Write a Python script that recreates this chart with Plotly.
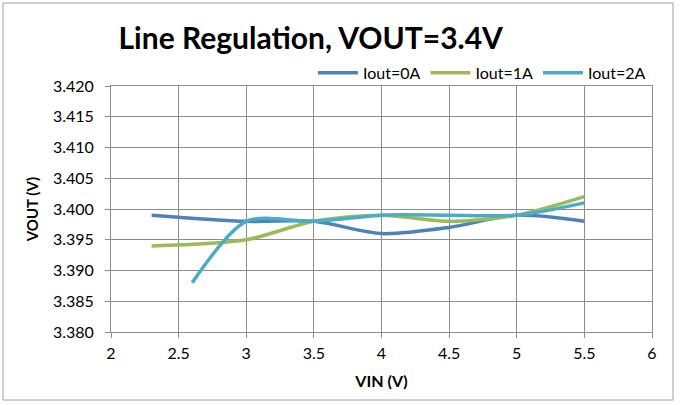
import plotly.graph_objects as go

vin_0a = [2.3, 3.0, 3.5, 4.0, 4.5, 5.0, 5.5]
vout_0a = [3.399, 3.398, 3.398, 3.396, 3.397, 3.399, 3.398]
vin_1a = [2.3, 3.0, 3.5, 4.0, 4.5, 5.0, 5.5]
vout_1a = [3.394, 3.395, 3.398, 3.399, 3.398, 3.399, 3.402]
vin_2a = [2.6, 3.0, 3.5, 4.0, 4.5, 5.0, 5.5]
vout_2a = [3.388, 3.398, 3.398, 3.399, 3.399, 3.399, 3.401]
names = ["Iout=0A", "Iout=1A", "Iout=2A"]
colors = ["#4F81BD", "#9BBB59", "#4BACC6"]

FONT = "Lato, Open Sans, sans-serif"
fig = go.Figure()
for xs, ys, n, c in zip([vin_0a, vin_1a, vin_2a], [vout_0a, vout_1a, vout_2a], names, colors):
    fig.add_trace(go.Scatter(x=xs, y=ys, name=n, mode="lines",
                             line=dict(color=c, width=3.5, shape="spline", smoothing=0.8)))

grid = "#8C8C8C"
fig.update_layout(
    width=683, height=405,
    margin=dict(l=111, r=31, t=86, b=73),
    paper_bgcolor="white", plot_bgcolor="white",
    font=dict(family=FONT, size=15, color="black"),
    title=dict(text="<b>Line Regulation, VOUT=3.4V</b>", x=0.455, xanchor="center",
               y=0.905, yanchor="middle", font=dict(size=30, family=FONT)),
    legend=dict(orientation="h", x=0.998, xanchor="right", y=1.053, yanchor="middle",
                font=dict(size=16), bgcolor="rgba(0,0,0,0)", traceorder="normal",
                itemwidth=40, tracegroupgap=0),
    showlegend=True,
    xaxis=dict(range=[2, 6], dtick=0.5, tick0=2, showgrid=True, gridcolor=grid, gridwidth=1,
               showline=True, linecolor=grid, mirror=True, ticks="outside", ticklen=5,
               tickcolor=grid, zeroline=False, tickfont=dict(size=16), ticklabelstandoff=2,
               title=dict(text="<b>VIN (V)</b>", font=dict(size=16), standoff=14)),
    yaxis=dict(range=[3.380, 3.420], dtick=0.005, tick0=3.38, tickformat=".3f", showgrid=True,
               gridcolor=grid, gridwidth=1, showline=True, linecolor=grid, mirror=True,
               ticks="outside", ticklen=5, tickcolor=grid, zeroline=False, tickfont=dict(size=16),
               ticklabelstandoff=8,
               title=dict(text="<b>VOUT (V)</b>", font=dict(size=15), standoff=10)),
    shapes=[dict(type="rect", xref="paper", yref="paper",
                 x0=(3 - 111) / 541, x1=(673 - 111) / 541,
                 y0=(332 - 400) / 246, y1=(332 - 3) / 246,
                 line=dict(color="#A0A0A0", width=1), fillcolor="rgba(0,0,0,0)", layer="below")],
)
fig.write_html("out.html", config={"displayModeBar": False},
               post_script="document.body.style.margin='0';document.body.style.overflow='hidden';")
